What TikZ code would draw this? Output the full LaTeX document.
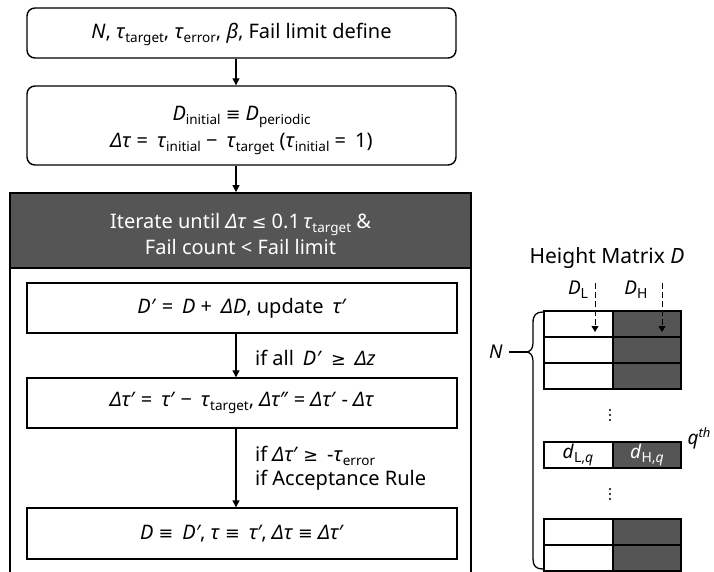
\documentclass[tikz,border=0pt]{standalone}
\usepackage{fontspec}
\setmainfont{Noto Sans}
\newfontfamily\symfont[Scale=0.88]{DejaVu Sans}
\usetikzlibrary{arrows.meta,calc}
\definecolor{boxgray}{RGB}{85,85,85}
\newcommand{\iv}[1]{\textit{#1}}
\newcommand{\sy}[1]{{\symfont #1}}
\newcommand{\lo}[1]{\raisebox{-4pt}{\fontsize{13.5}{14}\selectfont #1}}
\newcommand{\los}[1]{\raisebox{-4pt}{\fontsize{14}{14}\selectfont #1}}
\newcommand{\gap}{\hspace{0.45em}}
\tikzset{
  txt/.style={font=\fontsize{20}{26}\selectfont, align=center, inner sep=0pt},
  rbox/.style={draw, line width=1.4pt, rounded corners=8pt, minimum width=429pt},
  sbox/.style={draw, line width=1.4pt, minimum width=430pt, minimum height=50pt, txt},
  arr/.style={line width=1.3pt, -{Triangle[length=7pt,width=7pt]}},
  darr/.style={line width=1pt, dash pattern=on 6pt off 3pt, -{Triangle[length=6pt,width=7pt]}},
  cell/.style={draw, line width=1.3pt},
  lab/.style={font=\fontsize{20}{26}\selectfont, align=left, anchor=west, inner sep=0pt},
  mlab/.style={font=\fontsize{19}{22}\selectfont, inner sep=0pt},
}
\begin{document}
\begin{tikzpicture}[x=1pt,y=-1pt]
\useasboundingbox (0,0) rectangle (714,571);
\clip (0,0) rectangle (714,571);
\coordinate (axis) at (236,0);

% set-up steps
\node[rbox, minimum height=50pt] (b1) at (241.5,33) {};
\node[txt] (t1) at (241.5,34)
  {\iv{N}, \iv{τ}\lo{target}, \iv{τ}\lo{error}, \iv{β}, Fail limit define};
\node[rbox, minimum height=79pt] (b2) at (241.5,125.5) {};
\node[txt] (t2) at (241.5,130)
  {\iv{D}\lo{initial} \sy{≡} \iv{D}\lo{periodic}\\[1pt]
   \iv{Δτ} =\gap\iv{τ}\lo{initial} −\gap\iv{τ}\lo{target} (\iv{τ}\lo{initial} =\gap1)};

% iteration loop
\draw[line width=1.8pt] (10,580) -- (10,193) -- (471,193) -- (471,580);
\node[draw, line width=1.8pt, fill=boxgray, minimum width=461pt,
      minimum height=75pt] (head) at (240.5,230.5) {};
\node[txt, text=white] (th) at (240.5,233.5)
  {Iterate until \iv{Δτ} \sy{≤} 0.1\,\iv{τ}\lo{target} \&\\[0pt]Fail count < Fail limit};

\node[sbox] (s1) at (242,308) {\iv{D′} =\gap\iv{D} +\gap\iv{ΔD}, update\gap\iv{τ′}};
\node[sbox] (s2) at (242,403) {\iv{Δτ′} =\gap\iv{τ′} −\gap\iv{τ}\lo{target}, \iv{Δτ″} = \iv{Δτ′} - \iv{Δτ}};
\node[sbox, minimum height=51pt] (s3) at (242,533.5)
  {\iv{D} \sy{≡}\gap\iv{D′}, \iv{τ} \sy{≡}\gap\iv{τ′}, \iv{Δτ} \sy{≡} \iv{Δτ′}};

\draw[arr] (b1.south -| axis) -- (b2.north -| axis);
\draw[arr] (b2.south -| axis) -- (head.north -| axis);
\draw[arr] (s1.south -| axis) -- (s2.north -| axis);
\draw[arr] (s2.south -| axis) -- (s3.north -| axis);

\node[lab] (c1) at (255,358) {if all\gap\iv{D′}\gap\sy{≥}\gap\iv{Δz}};
\node[lab] (c2) at (255,468)
  {if \iv{Δτ′} \sy{≥}\gap-\iv{τ}\lo{error}\\[-2pt]if Acceptance Rule};

% height matrix
\node[font=\fontsize{21}{24}\selectfont, inner sep=0pt] (title) at (607,258) {Height Matrix \iv{D}};
\foreach \ya/\yb in {311/337, 337/363, 363/389, 442/468, 519/545, 545/571} {
  \draw[cell] (544,\ya) rectangle (613,\yb);
  \draw[cell, fill=boxgray] (613,\ya) rectangle (681,\yb);
}
\node[mlab] (dlq) at (578,455) {\iv{d}\los{L,\iv{q}}};
\node[mlab, text=white] (dhq) at (647,455) {\iv{d}\los{H,\iv{q}}};
\node[mlab] (qth) at (699,438)
  {\iv{q}\raisebox{7pt}{\fontsize{13}{13}\selectfont\iv{th}}};

\node[mlab] (dL) at (578,290) {\iv{D}\los{L}};
\node[mlab] (dH) at (636,290) {\iv{D}\los{H}};
\coordinate (dLa) at (595,283);
\coordinate (dLb) at (595,332);
\coordinate (dHa) at (662,283);
\coordinate (dHb) at (662,332);
\draw[darr] (dLa) -- (dLb);
\draw[darr] (dHa) -- (dHb);

\foreach \y in {410,415,420,489,494,499} \fill (610,\y) circle (1.2pt);

% brace spanning the N rows
\node[mlab] (nlab) at (496,352) {\iv{N}};
\coordinate (tip) at (526,352);
\draw[line width=1.3pt] (543,312) .. controls (536,312) and (533,315) .. (533,323)
  -- (533,343) .. controls (533,349) and (530,352) .. (tip)
  .. controls (530,352) and (533,355) .. (533,361)
  -- (533,559) .. controls (533,566) and (536,569) .. (543,569);
\draw[line width=1.3pt] (nlab.east) ++(6,0) -- (tip);
\end{tikzpicture}
\end{document}
